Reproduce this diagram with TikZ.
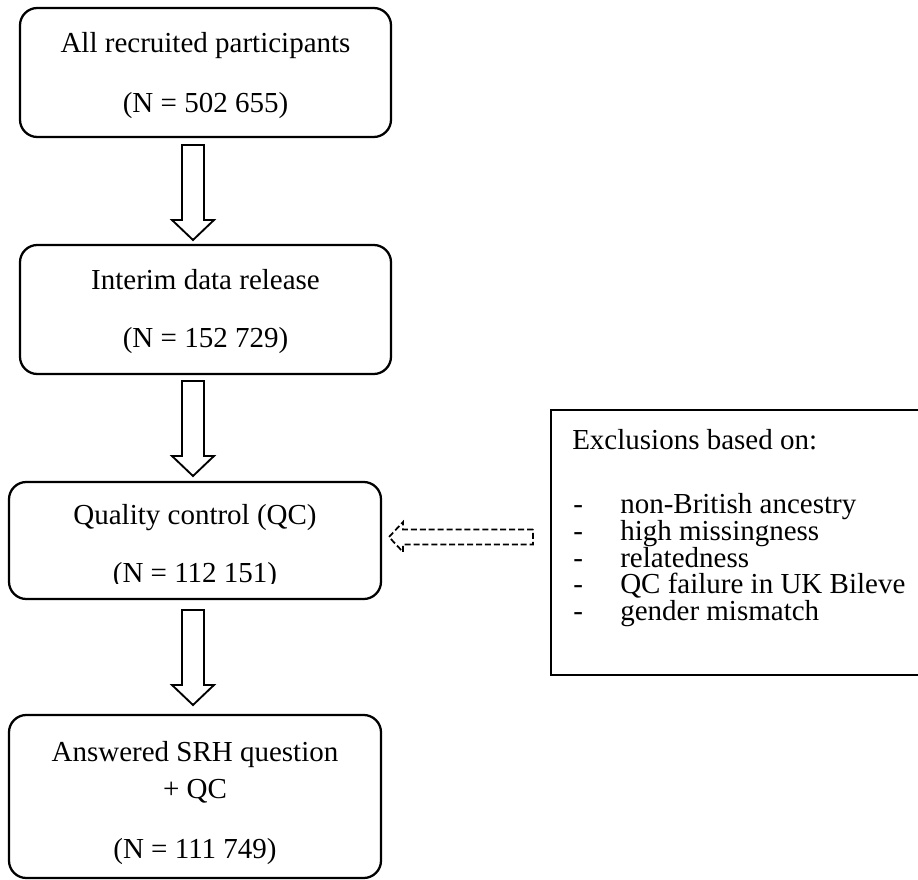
\documentclass[tikz,border=0pt]{standalone}
\usepackage{fontspec}
\setmainfont{Liberation Serif}
\usetikzlibrary{calc}
\newcommand\blockdown[2]{\draw[blockarrow] ($(#1)+(-11,0)$) -- ($(#2)+(-11,-20)$) -- ($(#2)+(-21,-20)$) -- (#2) -- ($(#2)+(21,-20)$) -- ($(#2)+(11,-20)$) -- ($(#1)+(11,0)$) -- cycle;}
\begin{document}
\begin{tikzpicture}[x=0.75pt,y=-0.75pt,
  rbox/.style={draw, line width=1.7pt, rounded corners=13pt, inner sep=0pt, outer sep=0pt},
  sbox/.style={draw, line width=1.7pt, inner sep=0pt, outer sep=0pt},
  txt/.style={inner sep=0pt, anchor=base, font=\fontsize{21.75}{26}\selectfont},
  ltxt/.style={txt, anchor=base west},
  blockarrow/.style={draw, line width=1.4pt, line join=miter, fill=white},
  dasharrow/.style={draw, line width=1.3pt, dash pattern=on 4.5pt off 2.2pt}]
\useasboundingbox (0,0) rectangle (918,880);
\clip (0,0) rectangle (918,880);

% boxes
\node[rbox, minimum width=278.25pt, minimum height=96.75pt] (b1) at (205.5,72.5) {};
\node[rbox, minimum width=278.25pt, minimum height=96.75pt] (b2) at (205.5,309.5) {};
\node[rbox, minimum width=279pt, minimum height=87.75pt] (b3) at (195,540.5) {};
\node[rbox, minimum width=279pt, minimum height=122.25pt] (b4) at (195,796.5) {};
\node[sbox, minimum width=284.25pt, minimum height=198.75pt] (ex) at (740.5,542.5) {};

% texts
\node[txt] (b1a) at (205.5,53) {All recruited participants};
\node[txt] (b1b) at (205.5,113) {(N = 502 655)};
\node[txt] (b2a) at (205.5,290) {Interim data release};
\node[txt] (b2b) at (205.5,348) {(N = 152 729)};
\node[txt] (b3a) at (195,525) {Quality control (QC)};
\begin{scope}
\clip (0,0) rectangle (918,583);
\node[txt] (b3b) at (195,582) {(N = 112 151)};
\end{scope}
\node[txt] (b4a) at (195,761) {Answered SRH question};
\node[txt] (b4b) at (195,798) {+ QC};
\node[txt] (b4c) at (195,858) {(N = 111 749)};

\node[ltxt] (ex0) at (572,450) {Exclusions based on:};
\foreach \i/\y/\t in {1/514/non-British ancestry, 2/540.5/high missingness, 3/567/relatedness, 4/593.5/QC failure in UK Bileve, 5/620/gender mismatch}{
  \node[ltxt] (exd\i) at (573,\y) {-};
  \node[ltxt] (exi\i) at (620,\y) {\t};
}

% block arrows
\coordinate (a1s) at (193,145); \coordinate (a1e) at (193,240);
\coordinate (a2s) at (193,381); \coordinate (a2e) at (193,476);
\coordinate (a3s) at (193,610); \coordinate (a3e) at (193,705);
\blockdown{a1s}{a1e}
\blockdown{a2s}{a2e}
\blockdown{a3s}{a3e}

% dashed arrow
\coordinate (d1s) at (533,537); \coordinate (d1e) at (389,537);
\draw[dasharrow] ($(d1s)+(0,-7.5)$) -- ($(d1e)+(14,-7.5)$) -- ($(d1e)+(14,-15)$) -- (d1e) -- ($(d1e)+(14,15)$) -- ($(d1e)+(14,7.5)$) -- ($(d1s)+(0,7.5)$) -- cycle;
\end{tikzpicture}
\end{document}
